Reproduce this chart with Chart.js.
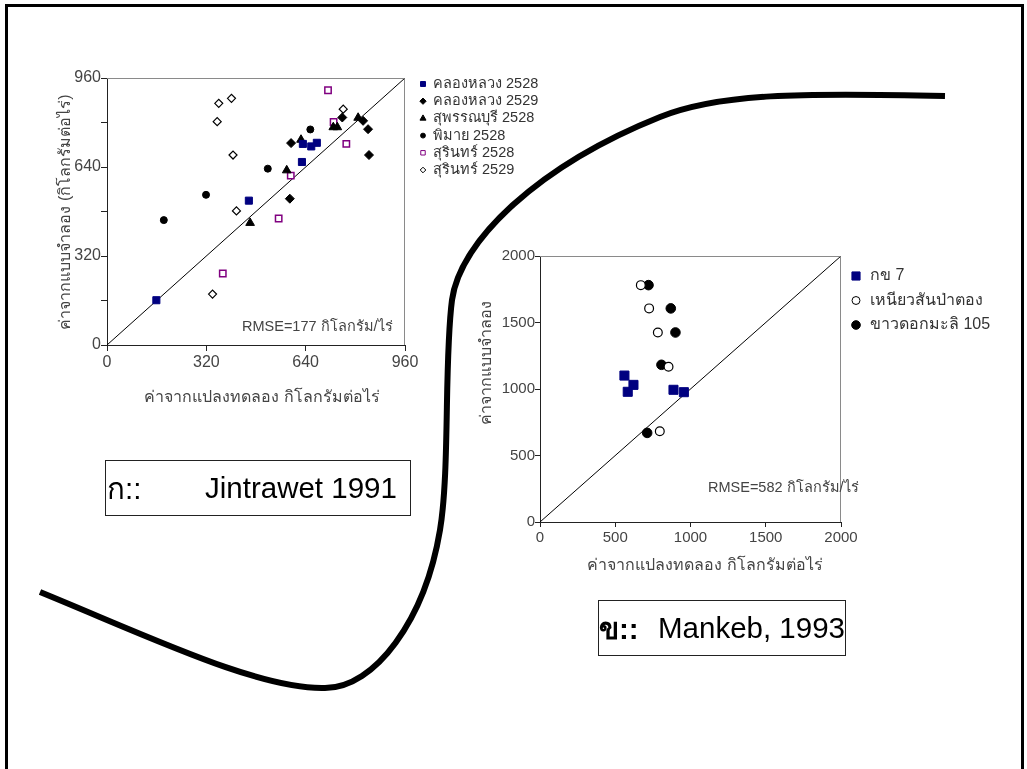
<!DOCTYPE html>
<html>
<head>
<meta charset="utf-8">
<title>Model vs field yield</title>
<script src="https://cdn.jsdelivr.net/npm/chart.js@4.4.1/dist/chart.umd.min.js"></script>
<style>
  html, body { margin: 0; padding: 0; background: #fff; }
  body { width: 1027px; height: 769px; position: relative; overflow: hidden;
         font-family: "Liberation Sans", Arial, "Noto Sans", sans-serif; }
  .frame { position: absolute; left: 5px; top: 4px; width: 1019px; height: 820px;
           border: 3px solid #000; box-sizing: border-box; }
  canvas { position: absolute; left: 0; top: 0; }
  svg { position: absolute; left: 0; top: 0; }
  .cap { position: absolute; border: 1.5px solid #222; box-sizing: border-box;
         font-size: 29.5px; color: #000; }
  .cap span { position: absolute; top: 50%; transform: translateY(-50%); white-space: nowrap; }
</style>
</head>
<body>
<div class="frame"></div>
<svg width="1027" height="769">
  <path d="M 40 592 C 150 637, 260 690, 325 688 C 375 688, 425 620, 440 530 C 450 470, 444 360, 452 300 C 460 240, 540 165, 660 117 C 720 93, 800 93, 945 96"
        fill="none" stroke="#000" stroke-width="6"/>
</svg>
<canvas id="chartA" width="1027" height="769"></canvas>
<canvas id="chartB" width="1027" height="769"></canvas>
<div class="cap" style="left:105px; top:460px; width:306px; height:56px;">
  <span style="left:1px;">ก::</span><span style="left:99px;">Jintrawet 1991</span>
</div>
<div class="cap" style="left:598px; top:600px; width:248px; height:56px;">
  <span style="left:0px; font-weight:bold;">ข::</span><span style="left:59px;">Mankeb, 1993</span>
</div>
<script>
// ---- chart ก (Jintrawet 1991), kg/rai, observed (x) vs simulated (y)
const leftNames = ["คลองหลวง 2528", "คลองหลวง 2529", "สุพรรณบุรี 2528", "พิมาย 2528", "สุรินทร์ 2528", "สุรินทร์ 2529"];
const kl2528X = [159, 457, 628, 631, 658, 676];
const kl2528Y = [161, 519, 658, 723, 714, 727];
const kl2529X = [593, 589, 758, 825, 841, 844];
const kl2529Y = [726, 526, 818, 806, 776, 683];
const sp2528X = [461, 579, 625, 729, 742, 809];
const sp2528Y = [439, 628, 738, 783, 783, 817];
const pm2528X = [183, 319, 518, 655];
const pm2528Y = [449, 540, 634, 775];
const sr2528X = [712, 730, 771, 592, 553, 373];
const sr2528Y = [916, 802, 723, 609, 455, 257];
const sr2529X = [360, 401, 355, 406, 761, 417, 340];
const sr2529Y = [869, 887, 803, 683, 848, 482, 183];
const leftTicks = [0, 320, 640, 960];
const leftRmse = "RMSE=177 กิโลกรัม/ไร่";

// ---- chart ข (Mankeb, 1993)
const rightNames = ["กข 7", "เหนียวสันป่าตอง", "ขาวดอกมะลิ 105"];
const rd7X = [561, 621, 583, 887, 956];
const rd7Y = [1101, 1031, 979, 994, 976];
const sptX = [670, 725, 783, 854, 796];
const sptY = [1781, 1606, 1425, 1167, 682];
const kdmlX = [721, 869, 900, 807, 712];
const kdmlY = [1781, 1606, 1425, 1182, 670];
const rightTicks = [0, 500, 1000, 1500, 2000];
const rightRmse = "RMSE=582 กิโลกรัม/ไร่";

const xTitle = "ค่าจากแปลงทดลอง กิโลกรัมต่อไร่";
const yTitleLeft = "ค่าจากแบบจำลอง (กิโลกรัมต่อไร่)";
const yTitleRight = "ค่าจากแบบจำลอง";

Chart.defaults.font.family = '"Liberation Sans", Arial, "Noto Sans", sans-serif';
Chart.defaults.animation = false;

const pts = (xs, ys) => xs.map((x, i) => ({ x: x, y: ys[i] }));

// draws frame top/right, legend, titles and rmse note
const extras = {
  id: "extras",
  afterDraw(chart, args, o) {
    const { ctx, chartArea: a } = chart;
    ctx.save();
    ctx.strokeStyle = "#8a8a8a";
    ctx.lineWidth = 1;
    ctx.beginPath();
    ctx.moveTo(a.left, a.top + 0.5);
    ctx.lineTo(a.right - 0.5, a.top + 0.5);
    ctx.lineTo(a.right - 0.5, a.bottom);
    ctx.stroke();

    // legend
    ctx.font = o.legendFont + "px " + Chart.defaults.font.family;
    ctx.textBaseline = "middle";
    ctx.textAlign = "left";
    let row = 0;
    chart.data.datasets.forEach((ds) => {
      if (ds.legend === false) return;
      const y = o.legendY + row * o.legendGap;
      ctx.fillStyle = ds.backgroundColor;
      ctx.strokeStyle = ds.borderColor;
      Chart.helpers.drawPoint(ctx, {
        pointStyle: ds.pointStyle,
        radius: ds.pointRadius * o.legendScale,
        borderWidth: ds.borderWidth,
        rotation: 0,
      }, o.legendX, y);
      ctx.fillStyle = "#333";
      ctx.fillText(ds.label, o.legendTextX, y);
      row++;
    });

    ctx.fillStyle = "#444";
    ctx.font = o.titleFont + "px " + Chart.defaults.font.family;
    ctx.textAlign = "center";
    ctx.fillText(o.xTitle, o.xTitlePos[0], o.xTitlePos[1]);
    ctx.save();
    ctx.translate(o.yTitlePos[0], o.yTitlePos[1]);
    ctx.rotate(-Math.PI / 2);
    ctx.fillText(o.yTitle, 0, 0);
    ctx.restore();

    ctx.font = o.noteFont + "px " + Chart.defaults.font.family;
    ctx.textAlign = "left";
    ctx.fillText(o.note, o.notePos[0], o.notePos[1]);
    ctx.restore();
  },
};

function axis(max, step, ticks, tl, fsize, isX, h) {
  return {
    type: "linear",
    min: 0,
    max: max,
    ticks: {
      stepSize: step,
      autoSkip: false,
      maxRotation: 0,
      padding: isX ? 2 : 0,
      color: "#444",
      font: { size: fsize },
      callback: (v) => (ticks.includes(v) ? String(v) : ""),
    },
    grid: { drawOnChartArea: false, drawTicks: true, tickLength: tl, color: "#222" },
    border: { color: "#222", width: 1 },
    afterFit: (s) => {
      if (isX) s.height = h;
      else s.width = h;
    },
  };
}

new Chart(document.getElementById("chartA"), {
  type: "scatter",
  data: {
    datasets: [
      { label: leftNames[0], data: pts(kl2528X, kl2528Y), pointStyle: "rect", pointRadius: 5,
        backgroundColor: "#000080", borderColor: "#000080", borderWidth: 1 },
      { label: leftNames[1], data: pts(kl2529X, kl2529Y), pointStyle: "rectRot", pointRadius: 4.5,
        backgroundColor: "#000", borderColor: "#000", borderWidth: 1 },
      { label: leftNames[2], data: pts(sp2528X, sp2528Y), pointStyle: "triangle", pointRadius: 5,
        backgroundColor: "#000", borderColor: "#000", borderWidth: 1 },
      { label: leftNames[3], data: pts(pm2528X, pm2528Y), pointStyle: "circle", pointRadius: 3.5,
        backgroundColor: "#000", borderColor: "#000", borderWidth: 1 },
      { label: leftNames[4], data: pts(sr2528X, sr2528Y), pointStyle: "rect", pointRadius: 4.5,
        backgroundColor: "#fff", borderColor: "#800080", borderWidth: 1.5 },
      { label: leftNames[5], data: pts(sr2529X, sr2529Y), pointStyle: "rectRot", pointRadius: 4,
        backgroundColor: "#fff", borderColor: "#000", borderWidth: 1.2 },
      { type: "line", label: "1:1", legend: false, data: pts([0, 960], [0, 960]),
        borderColor: "#000", borderWidth: 1, pointRadius: 0 },
    ],
  },
  options: {
    responsive: false,
    layout: { padding: { left: 67, top: 78, right: 622, bottom: 394 } },
    plugins: {
      legend: { display: false },
      tooltip: { enabled: false },
      extras: {
        legendX: 423, legendTextX: 433, legendY: 84, legendGap: 17.2, legendScale: 0.7, legendFont: 14.5,
        titleFont: 16, xTitle: xTitle, xTitlePos: [262, 398], yTitle: yTitleLeft, yTitlePos: [66, 212],
        noteFont: 14.5, note: leftRmse, notePos: [242, 327],
      },
    },
    scales: {
      x: axis(960, 320, leftTicks, 6, 16, true, 30),
      y: axis(960, 160, leftTicks, 6, 16, false, 40),
    },
  },
  plugins: [extras],
});

new Chart(document.getElementById("chartB"), {
  type: "scatter",
  data: {
    datasets: [
      { label: rightNames[0], data: pts(rd7X, rd7Y), pointStyle: "rect", pointRadius: 6.4,
        backgroundColor: "#000080", borderColor: "#000080", borderWidth: 1 },
      { label: rightNames[1], data: pts(sptX, sptY), pointStyle: "circle", pointRadius: 4.4,
        backgroundColor: "#fff", borderColor: "#000", borderWidth: 1.2 },
      { label: rightNames[2], data: pts(kdmlX, kdmlY), pointStyle: "circle", pointRadius: 4.8,
        backgroundColor: "#000", borderColor: "#000", borderWidth: 1 },
      { type: "line", label: "1:1", legend: false, data: pts([0, 2000], [0, 2000]),
        borderColor: "#000", borderWidth: 1, pointRadius: 0 },
    ],
  },
  options: {
    responsive: false,
    layout: { padding: { left: 500, top: 256, right: 186, bottom: 217 } },
    plugins: {
      legend: { display: false },
      tooltip: { enabled: false },
      extras: {
        legendX: 856, legendTextX: 870, legendY: 276, legendGap: 24.5, legendScale: 0.9, legendFont: 16,
        titleFont: 16, xTitle: xTitle, xTitlePos: [705, 566], yTitle: yTitleRight, yTitlePos: [487, 363],
        noteFont: 14.5, note: rightRmse, notePos: [708, 488],
      },
    },
    scales: {
      x: axis(2000, 500, rightTicks, 5, 15, true, 30),
      y: axis(2000, 500, rightTicks, 5, 15, false, 40),
    },
  },
  plugins: [extras],
});
</script>
</body>
</html>
